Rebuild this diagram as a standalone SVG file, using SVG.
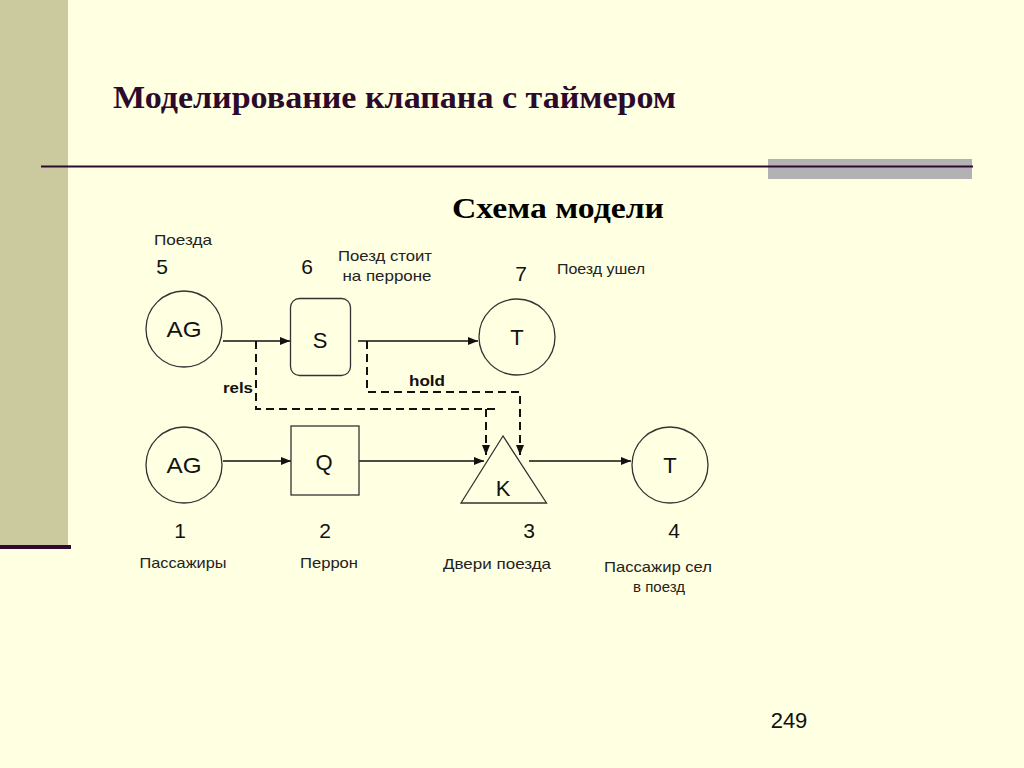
<svg xmlns="http://www.w3.org/2000/svg" width="1024" height="768" viewBox="0 0 1024 768">
<style>
.bg{fill:#FFFFE1}
.node{fill:none;stroke:#333;stroke-width:1.3}
.lbl{font-family:"Liberation Sans",Arial,sans-serif;fill:#111;text-anchor:middle}
.nl{font-size:22px}
.num{font-size:21px}
.cap{font-size:15px;fill:#222}
.bold{font-weight:bold;font-size:15px;fill:#111}
.conn{stroke:#111;stroke-width:1.3;fill:none}
.dash{stroke:#111;stroke-width:2;fill:none;stroke-dasharray:8,5}
.ttl{font-family:"Liberation Serif","Times New Roman",serif;font-weight:bold}
</style>
<defs>
<marker id="arr" viewBox="0 0 10 10" refX="10" refY="5" markerWidth="10" markerHeight="10" markerUnits="userSpaceOnUse" orient="auto">
<path d="M0,1 L10,5 L0,9 z" fill="#111"/>
</marker>
</defs>
<rect class="bg" x="0" y="0" width="1024" height="768"/>
<rect x="0" y="0" width="68" height="545" fill="#CBCA9E"/>
<rect x="0" y="545" width="71" height="4" fill="#2E0A30"/>
<rect x="768" y="159" width="204" height="20" fill="#B2B2B2"/>
<line x1="41" y1="166.5" x2="973" y2="166.5" stroke="#2E0A30" stroke-width="2"/>
<text class="ttl" x="113" y="108" font-size="31" fill="#2B0A2B" textLength="563" lengthAdjust="spacingAndGlyphs">Моделирование клапана с таймером</text>
<text class="ttl" x="452" y="218" font-size="30" fill="#000" textLength="212" lengthAdjust="spacingAndGlyphs">Схема модели</text>

<g id="connectors">
<line class="conn" x1="223" y1="341" x2="290" y2="341" marker-end="url(#arr)"/>
<line class="conn" x1="358" y1="341" x2="478" y2="341" marker-end="url(#arr)"/>
<line class="conn" x1="223" y1="461" x2="291" y2="461" marker-end="url(#arr)"/>
<line class="conn" x1="359" y1="461" x2="484" y2="461" marker-end="url(#arr)"/>
<line class="conn" x1="529" y1="461" x2="631" y2="461" marker-end="url(#arr)"/>
<path class="dash" d="M256,341 V409 H495"/>
<path class="dash" d="M486,409 V455" marker-end="url(#arr)"/>
<path class="dash" d="M367,341 V392 H520 V455" marker-end="url(#arr)"/>
<text class="lbl bold" x="238" y="393" textLength="30" lengthAdjust="spacingAndGlyphs">rels</text>
<text class="lbl bold" x="427" y="386" textLength="36" lengthAdjust="spacingAndGlyphs">hold</text>
</g>

<g id="node5">
<circle class="node" cx="184" cy="329" r="38"/>
<text class="lbl nl" x="184" y="337" textLength="35" lengthAdjust="spacingAndGlyphs">AG</text>
<text class="lbl num" x="162" y="274">5</text>
<text class="lbl cap" x="183" y="245" textLength="58" lengthAdjust="spacingAndGlyphs">Поезда</text>
</g>
<g id="node6">
<rect class="node" x="290.5" y="298.5" width="60" height="77" rx="9"/>
<text class="lbl nl" x="320" y="348">S</text>
<text class="lbl num" x="307" y="274">6</text>
<text class="lbl cap" x="385" y="261" textLength="94" lengthAdjust="spacingAndGlyphs">Поезд стоит</text>
<text class="lbl cap" x="387" y="281" textLength="89" lengthAdjust="spacingAndGlyphs">на перроне</text>
</g>
<g id="node7">
<circle class="node" cx="517" cy="337" r="38"/>
<text class="lbl nl" x="517" y="345">T</text>
<text class="lbl num" x="521" y="281">7</text>
<text class="lbl cap" x="601" y="274" textLength="88" lengthAdjust="spacingAndGlyphs">Поезд ушел</text>
</g>
<g id="node1">
<circle class="node" cx="184" cy="465" r="38"/>
<text class="lbl nl" x="184" y="473" textLength="35" lengthAdjust="spacingAndGlyphs">AG</text>
<text class="lbl num" x="180" y="538">1</text>
<text class="lbl cap" x="183" y="568" textLength="87" lengthAdjust="spacingAndGlyphs">Пассажиры</text>
</g>
<g id="node2">
<rect class="node" x="291" y="426" width="68" height="69"/>
<text class="lbl nl" x="324" y="470">Q</text>
<text class="lbl num" x="325" y="538">2</text>
<text class="lbl cap" x="329" y="568" textLength="58" lengthAdjust="spacingAndGlyphs">Перрон</text>
</g>
<g id="node3">
<polygon class="node" points="503,436 461,503 546.5,503"/>
<text class="lbl nl" x="503" y="496">K</text>
<text class="lbl num" x="529" y="538">3</text>
<text class="lbl cap" x="497" y="569" textLength="108" lengthAdjust="spacingAndGlyphs">Двери поезда</text>
</g>
<g id="node4">
<circle class="node" cx="670" cy="465" r="38"/>
<text class="lbl nl" x="670" y="473">T</text>
<text class="lbl num" x="674" y="538">4</text>
<text class="lbl cap" x="658" y="572" textLength="108" lengthAdjust="spacingAndGlyphs">Пассажир  сел</text>
<text class="lbl cap" x="659" y="592">в поезд</text>
</g>
<text class="lbl" x="789" y="728" font-size="22">249</text>
</svg>
